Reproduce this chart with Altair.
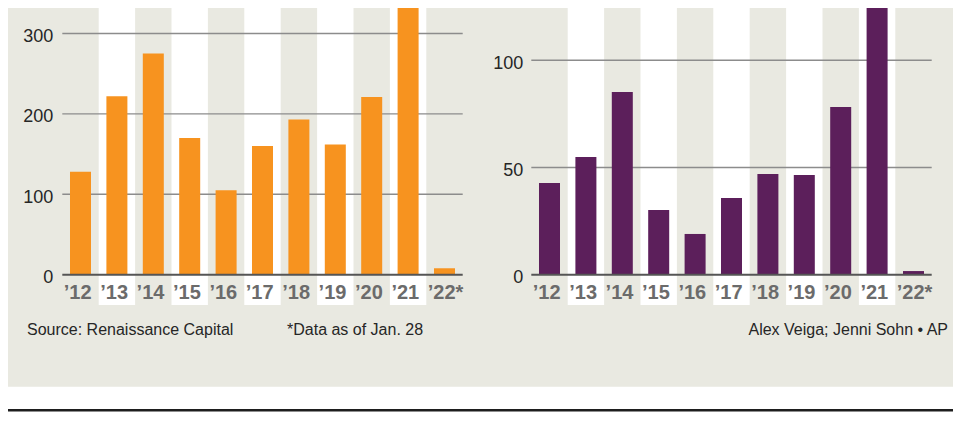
import altair as alt
import pandas as pd

# ---- data ----
YEARS = ["’12", "’13", "’14", "’15", "’16", "’17", "’18", "’19", "’20", "’21", "’22*"]
IPO_COUNT = [128, 222, 275, 170, 105, 160, 193, 162, 221, 397, 8]
IPO_PROCEEDS = [42.8, 54.9, 85.2, 30.2, 19.0, 35.8, 47.0, 46.5, 78.2, 142.4, 1.7]
LEFT_TICKS = [0, 100, 200, 300]
RIGHT_TICKS = [0, 50, 100]
SOURCE = "Source: Renaissance Capital"
NOTE = "*Data as of Jan. 28"
CREDIT = "Alex Veiga; Jenni Sohn • AP"

# ---- styles ----
BEIGE = "#e9e9e1"
ORANGE = "#f7931f"
PURPLE = "#5c1f5b"
GRID = "#8c8c8c"
BASE = "#555555"
XLAB = "#6b6b6b"
TXT = "#262626"
FONT = "Liberation Sans"
W, H = 945, 426

stripe = [i % 2 == 1 for i in range(len(YEARS))]
left_df = pd.DataFrame({"year": YEARS, "value": IPO_COUNT, "stripe": stripe})
right_df = pd.DataFrame({"year": YEARS, "value": IPO_PROCEEDS, "stripe": stripe})
one = pd.DataFrame({"k": [0]})


def panel(df, ticks, xr, y0, ytop, ymax, color, label_x):
    xs = alt.Scale(domain=YEARS, range=xr, paddingInner=0, paddingOuter=0)
    ys = alt.Scale(domain=[0, ymax], range=[y0, ytop], nice=False, zero=True)
    tdf = pd.DataFrame({"tick": ticks})

    stripes = alt.Chart(df).transform_filter("datum.stripe").mark_rect(
        color="white"
    ).encode(
        x=alt.X("year:N", scale=xs, axis=None, sort=YEARS),
        y=alt.value(0),
        y2=alt.value(297),
    )
    grid = alt.Chart(tdf).transform_filter("datum.tick > 0").mark_rule(
        color=GRID, strokeWidth=1.4
    ).encode(
        y=alt.Y("tick:Q", scale=ys, axis=None),
        x=alt.value(xr[0]),
        x2=alt.value(xr[1]),
    )
    bars = alt.Chart(df).mark_bar(
        color=color, width=alt.RelativeBandSize(0.577)
    ).encode(
        x=alt.X("year:N", scale=xs, axis=None, sort=YEARS),
        y=alt.Y("value:Q", scale=ys, axis=None),
    )
    base = alt.Chart(tdf).transform_filter("datum.tick == 0").mark_rule(
        color=BASE, strokeWidth=2
    ).encode(
        y=alt.Y("tick:Q", scale=ys, axis=None),
        x=alt.value(xr[0]),
        x2=alt.value(xr[1]),
    )
    xlab = alt.Chart(df).mark_text(
        align="left", baseline="alphabetic", dx=1.5,
        font=FONT, fontWeight="bold", fontSize=20, color=XLAB
    ).encode(
        x=alt.X("year:N", scale=xs, axis=None, sort=YEARS, bandPosition=0),
        y=alt.value(291.3),
        text="year:N",
    )
    ylab = alt.Chart(tdf).mark_text(
        align="right", baseline="alphabetic", dy=8.4,
        font=FONT, fontSize=18, color=TXT
    ).encode(
        y=alt.Y("tick:Q", scale=ys, axis=None),
        x=alt.value(label_x),
        text=alt.Text("tick:Q"),
    )
    return alt.layer(stripes, grid, bars, base, xlab, ylab)


left = panel(left_df, LEFT_TICKS, [54.3, 454.7], 266.7, 25.5, 300, ORANGE, 45.3)
right = panel(right_df, RIGHT_TICKS, [523.3, 923.7], 266.7, 52.3, 100, PURPLE, 515.3)

bottom_white = alt.Chart(one).mark_rect(color="white").encode(
    x=alt.value(0), x2=alt.value(W), y=alt.value(378.7), y2=alt.value(H)
)
bottom_line = alt.Chart(one).mark_rule(color="#1e1e1e", strokeWidth=2.5).encode(
    x=alt.value(0), x2=alt.value(W), y=alt.value(402.3)
)
src = alt.Chart(one).mark_text(
    text=SOURCE, align="left", baseline="alphabetic", font=FONT, fontSize=16, color=TXT
).encode(x=alt.value(19), y=alt.value(327))
note = alt.Chart(one).mark_text(
    text=NOTE, align="left", baseline="alphabetic", font=FONT, fontSize=16, color=TXT
).encode(x=alt.value(279), y=alt.value(327))
credit = alt.Chart(one).mark_text(
    text=CREDIT, align="right", baseline="alphabetic", font=FONT, fontSize=16, color=TXT
).encode(x=alt.value(940), y=alt.value(327))

deco = alt.layer(bottom_white, bottom_line, src, note, credit)

chart = alt.layer(deco, left, right).resolve_scale(
    x="independent", y="independent"
).properties(
    width=W, height=H, padding=0, background=BEIGE,
    autosize=alt.AutoSizeParams(type="none"),
).configure_view(strokeWidth=0)

chart.save("out.html", embed_options={"renderer": "svg", "actions": False})
